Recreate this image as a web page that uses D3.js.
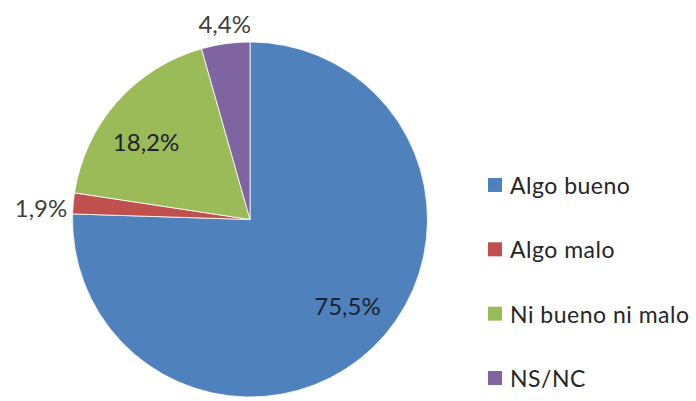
<!DOCTYPE html>
<html lang="es">

<head>
  <meta charset="utf-8">
  <title>Pie chart</title>
  <script type="text/javascript" src="https://cdn.jsdelivr.net/npm/d3@7"></script>
  <style type="text/css">
    body { margin: 0; background: #fff; }
    text { font-family: Lato, "Open Sans", sans-serif; }
  </style>
</head>

<body>
  <script type="text/javascript">
    // Data
    const categories = ["Algo bueno", "Algo malo", "Ni bueno ni malo", "NS/NC"];
    const values = [75.5, 1.9, 18.2, 4.4];
    const labels = ["75,5%", "1,9%", "18,2%", "4,4%"];
    const colors = ["#4f81bd", "#c0504d", "#9bbb59", "#8064a2"];
    const inside = [true, false, true, false];

    const w = 696;
    const h = 401;
    const cx = 250;
    const cy = 219.5;
    const r = 177.5;

    const svg = d3.select("body")
      .append("svg")
      .attr("width", w)
      .attr("height", h);

    const dataset = categories.map(function (c, i) {
      return {name: c, value: values[i], label: labels[i], color: colors[i], inside: inside[i]};
    });

    const pie = d3.pie()
      .value(function (d) { return d.value; })
      .sort(null);

    const arcs = pie(dataset);

    const arc = d3.arc().innerRadius(0).outerRadius(r);

    const g = svg.append("g")
      .attr("transform", "translate(" + cx + "," + cy + ")");

    g.selectAll("path")
      .data(arcs)
      .enter()
      .append("path")
      .attr("d", arc)
      .attr("fill", function (d) { return d.data.color; })
      .attr("stroke", "#ffffff")
      .attr("stroke-width", 0.8);

    // Labels: inside ones a bit before the mid angle, outside ones just past the edge
    function midAngle(d) {
      return (d.startAngle + d.endAngle) / 2;
    }

    g.selectAll("text.lbl")
      .data(arcs)
      .enter()
      .append("text")
      .attr("class", "lbl")
      .attr("font-size", 24)
      .attr("fill", function (d) { return d.data.inside ? "#1c2230" : "#404040"; })
      .attr("dominant-baseline", "central")
      .attr("text-anchor", function (d) {
        if (d.data.inside) return "middle";
        const s = Math.sin(midAngle(d));
        if (Math.abs(s) < 0.5) return "middle";
        return s < 0 ? "end" : "start";
      })
      .attr("x", function (d) {
        if (d.data.inside) return Math.sin(midAngle(d) - 0.0785) * 130;
        return Math.sin(midAngle(d)) * (r + 6);
      })
      .attr("y", function (d) {
        const a = midAngle(d);
        if (d.data.inside) return -Math.cos(a - 0.0785) * 130;
        if (Math.abs(Math.sin(a)) < 0.5) return -Math.cos(a) * (r + 20);
        return -Math.cos(a) * (r + 6) + 5;
      })
      .text(function (d) { return d.data.label; });

    // Legend
    const legendY = d3.scaleBand()
      .domain(categories)
      .range([152.8, 410.2]);

    const legend = svg.selectAll("g.legend")
      .data(dataset)
      .enter()
      .append("g")
      .attr("class", "legend")
      .attr("transform", function (d) {
        return "translate(488," + (legendY(d.name) + legendY.bandwidth() / 2) + ")";
      });

    legend.append("rect")
      .attr("x", 0)
      .attr("y", -7)
      .attr("width", 14)
      .attr("height", 14)
      .attr("fill", function (d) { return d.color; });

    legend.append("text")
      .attr("x", 22)
      .attr("y", 0)
      .attr("dominant-baseline", "central")
      .attr("font-size", 23)
      .attr("letter-spacing", 0.5)
      .attr("fill", "#262626")
      .text(function (d) { return d.name; });
  </script>
</body>

</html>
